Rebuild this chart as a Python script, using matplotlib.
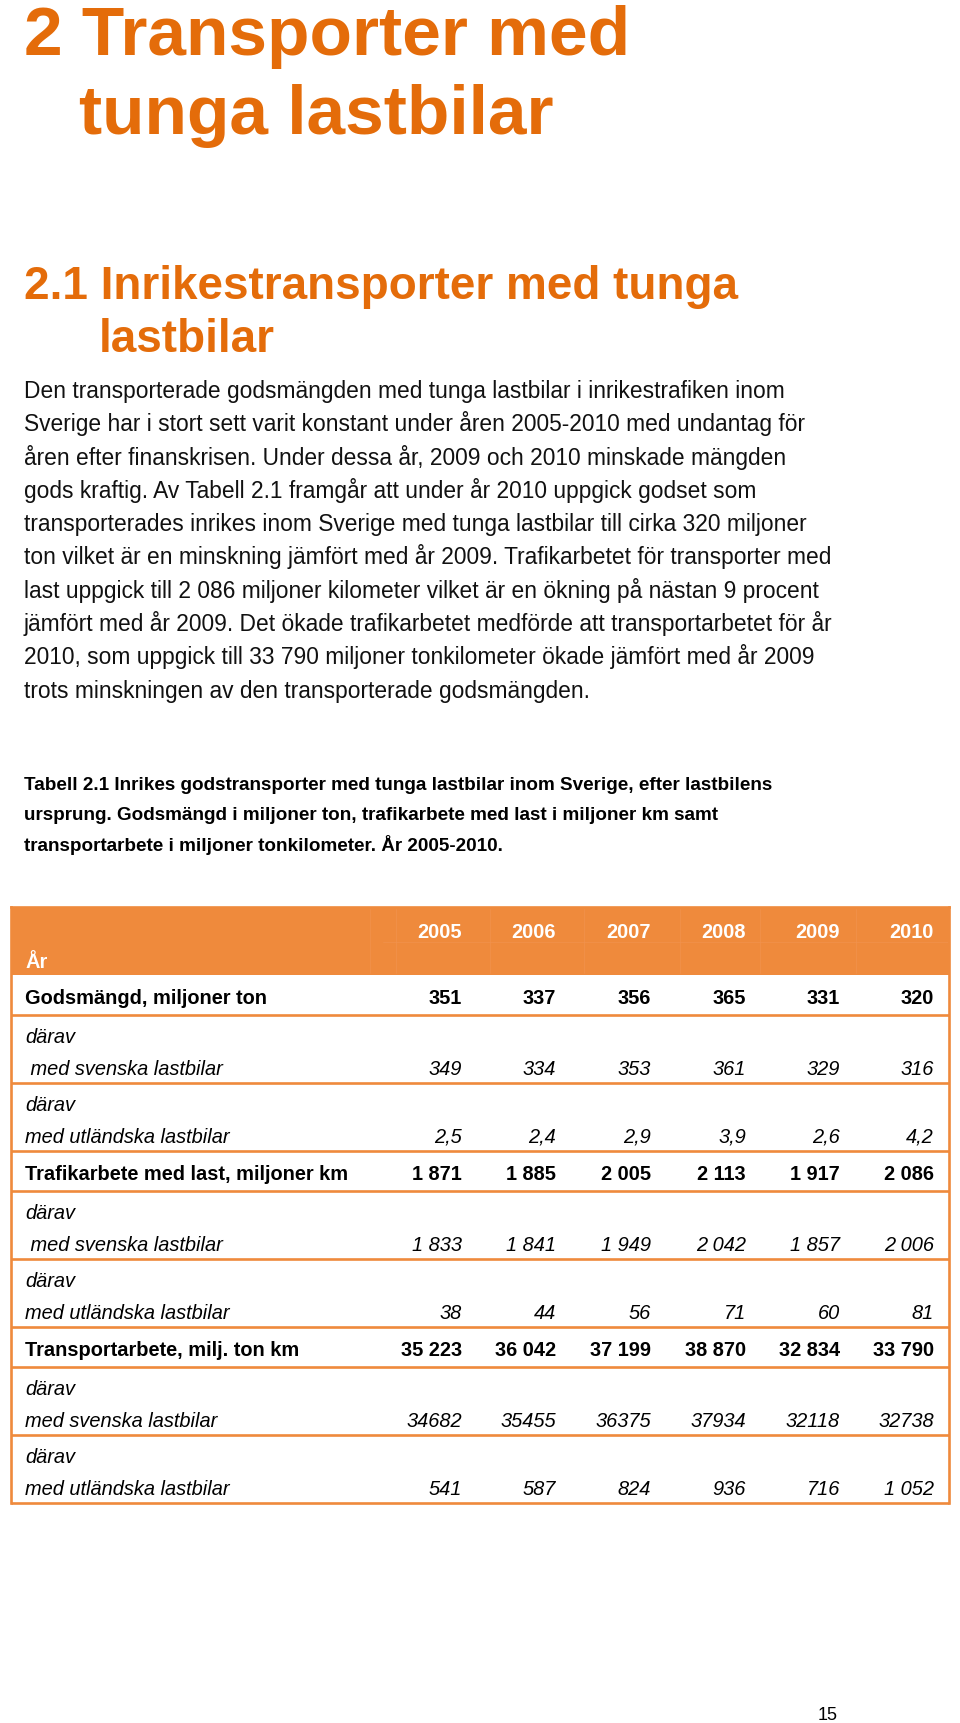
import matplotlib
matplotlib.use('Agg')
from matplotlib import pyplot as plt
from matplotlib.patches import Rectangle

plt.rcParams['font.family'] = ['Liberation Sans', 'DejaVu Sans']

# Texter
title_lines = ['2 Transporter med', 'tunga lastbilar']
subtitle_lines = ['2.1 Inrikestransporter med tunga', 'lastbilar']
body_lines = [
    'Den transporterade godsmängden med tunga lastbilar i inrikestrafiken inom',
    'Sverige har i stort sett varit konstant under åren 2005-2010 med undantag för',
    'åren efter finanskrisen. Under dessa år, 2009 och 2010 minskade mängden',
    'gods kraftig. Av Tabell 2.1 framgår att under år 2010 uppgick godset som',
    'transporterades inrikes inom Sverige med tunga lastbilar till cirka 320 miljoner',
    'ton vilket är en minskning jämfört med år 2009. Trafikarbetet för transporter med',
    'last uppgick till 2 086 miljoner kilometer vilket är en ökning på nästan 9 procent',
    'jämfört med år 2009. Det ökade trafikarbetet medförde att transportarbetet för år',
    '2010, som uppgick till 33 790 miljoner tonkilometer ökade jämfört med år 2009',
    'trots minskningen av den transporterade godsmängden.',
]
caption_lines = [
    'Tabell 2.1 Inrikes godstransporter med tunga lastbilar inom Sverige, efter lastbilens',
    'ursprung. Godsmängd i miljoner ton, trafikarbete med last i miljoner km samt',
    'transportarbete i miljoner tonkilometer. År 2005-2010.',
]

# Tabelldata
years = [2005, 2006, 2007, 2008, 2009, 2010]
godsmangd = [351, 337, 356, 365, 331, 320]
gods_sv = [349, 334, 353, 361, 329, 316]
gods_ut = [2.5, 2.4, 2.9, 3.9, 2.6, 4.2]
trafik = [1871, 1885, 2005, 2113, 1917, 2086]
trafik_sv = [1833, 1841, 1949, 2042, 1857, 2006]
trafik_ut = [38, 44, 56, 71, 60, 81]
transport = [35223, 36042, 37199, 38870, 32834, 33790]
transport_sv = [34682, 35455, 36375, 37934, 32118, 32738]
transport_ut = [541, 587, 824, 936, 716, 1052]

# (etikett, värden, fet, tusentalsavgränsare)
rows = [
    ('Godsmängd, miljoner ton', godsmangd, True, True),
    (' med svenska lastbilar', gods_sv, False, True),
    ('med utländska lastbilar', gods_ut, False, True),
    ('Trafikarbete med last, miljoner km', trafik, True, True),
    (' med svenska lastbilar', trafik_sv, False, True),
    ('med utländska lastbilar', trafik_ut, False, True),
    ('Transportarbete, milj. ton km', transport, True, True),
    ('med svenska lastbilar', transport_sv, False, False),
    ('med utländska lastbilar', transport_ut, False, True),
]


def fmt(v, sep):
    if isinstance(v, float):
        return f'{v:.1f}'.replace('.', ',')
    s = f'{v:,}' if sep else str(v)
    return s.replace(',', ' ')


ORANGE_T = '#E46C0A'
ORANGE = '#EF8A3C'
FAINT = '#F19450'

fig = plt.figure(figsize=(9.6, 17.24), dpi=100)
ax = fig.add_axes([0, 0, 1, 1])
ax.set_xlim(0, 960)
ax.set_ylim(1724, 0)
ax.axis('off')

# rubriker
ax.text(24, 55, title_lines[0], fontsize=50, fontweight='bold', color=ORANGE_T, va='baseline')
ax.text(79, 134, title_lines[1], fontsize=50, fontweight='bold', color=ORANGE_T, va='baseline')
ax.text(24, 299, subtitle_lines[0], fontsize=33, fontweight='bold', color=ORANGE_T, va='baseline')
ax.text(99, 352, subtitle_lines[1], fontsize=33, fontweight='bold', color=ORANGE_T, va='baseline')

for i, line in enumerate(body_lines):
    ax.text(24, 398 + i * 33.3, line, fontsize=16.4, color='#111111', va='baseline')

for i, line in enumerate(caption_lines):
    ax.text(24, 790 + i * 30.5, line, fontsize=13.6, fontweight='bold', color='black', va='baseline')

# tabell
left, right = 11, 949
head_top, head_bot = 908, 976
col_right = [462, 556, 651, 746, 840, 934]
fs = 14.4

ax.add_patch(Rectangle((left, head_top), right - left, head_bot - head_top,
                       facecolor=ORANGE, edgecolor='none', zorder=1))
# svaga cellgränser i rubrikraden
for x in [370, 396, 490, 584, 680, 760, 856]:
    ax.plot([x, x], [head_top + 2, head_bot - 2], color=FAINT, lw=0.4, zorder=2)
ax.plot([383, right], [943, 943], color=FAINT, lw=0.4, zorder=2)

for y, x in zip(years, col_right):
    ax.text(x, 938, str(y), fontsize=fs, fontweight='bold', color='white', ha='right', va='baseline', zorder=3)
ax.text(25, 968, 'År', fontsize=fs, fontweight='bold', color='white', va='baseline', zorder=3)

y0 = head_bot
for label, vals, bold, sep in rows:
    if bold:
        h = 40
        base = y0 + 28
        ax.text(25, base, label, fontsize=fs, fontweight='bold', va='baseline')
        style = 'normal'
        weight = 'bold'
    else:
        h = 68
        base = y0 + 59
        ax.text(25, y0 + 27, 'därav', fontsize=fs, style='italic', va='baseline')
        ax.text(25, base, label, fontsize=fs, style='italic', va='baseline')
        style = 'italic'
        weight = 'normal'
    for v, x in zip(vals, col_right):
        ax.text(x, base, fmt(v, sep), fontsize=fs, style=style, fontweight=weight,
                ha='right', va='baseline')
    y0 += h
    ax.plot([left, right], [y0, y0], color=ORANGE, lw=1.9, solid_capstyle='butt', zorder=4)

ax.plot([left, left], [head_top, y0], color=ORANGE, lw=1.9, zorder=4)
ax.plot([right, right], [head_top, y0], color=ORANGE, lw=1.9, zorder=4)
ax.plot([left, right], [head_top, head_top], color=ORANGE, lw=1.9, zorder=4)

ax.text(838, 1720, '15', fontsize=13, ha='right', va='baseline')

fig.savefig('out.png', dpi=100)
